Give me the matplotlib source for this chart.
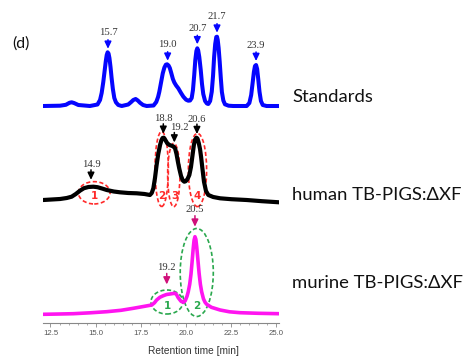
import matplotlib
matplotlib.use("Agg")
import matplotlib.pyplot as plt
import numpy as np
from matplotlib.patches import Ellipse
from matplotlib.ticker import MultipleLocator

# ---------------- data ----------------
# Standards trace: retention time [min] and signal (a.u.)
std_t = [12.10, 13.03, 13.35, 13.55, 13.67, 13.80, 14.04, 14.68,
         15.10, 15.24, 15.33, 15.42, 15.50, 15.56, 15.61, 15.66, 15.71, 15.76, 15.82,
         15.88, 15.95, 16.03, 16.12, 16.25, 16.44,
         16.80, 16.95, 17.08, 17.21, 17.33, 17.45, 17.62, 17.82,
         18.20, 18.35, 18.45, 18.52, 18.62, 18.71, 18.80, 18.88, 18.95, 19.03, 19.10,
         19.18, 19.27, 19.35, 19.45, 19.57, 19.72, 19.85, 20.00, 20.12, 20.22, 20.31,
         20.38, 20.45, 20.51, 20.57, 20.62, 20.67, 20.73, 20.81, 20.88, 20.95, 21.05,
         21.15, 21.23, 21.33, 21.42, 21.49, 21.55, 21.61, 21.67, 21.71, 21.75, 21.80,
         21.86, 21.92, 21.98, 22.06, 22.15, 22.35, 22.61,
         23.35, 23.50, 23.60, 23.68, 23.75, 23.81, 23.87, 23.93, 23.99, 24.06, 24.14,
         24.24, 24.45, 25.15]
std_h = [0, 0.3, 1.2, 3.2, 3.7, 3, 1, 0,
         1.5, 6, 13, 24, 36, 45, 51, 53.7, 52.5, 48, 39,
         28, 17, 8, 3.7, 1, 0,
         1.5, 3.8, 6, 7, 5.5, 3.3, 1, 0,
         0.5, 4, 9, 14.3, 24, 32.7, 38.5, 41.3, 41.7, 40.5, 38,
         33, 27, 23.5, 20.5, 17.7, 13, 9.3, 6.3, 5.3, 5.5, 8,
         16, 31, 46, 55, 57.7, 55.5, 49, 36, 22, 12, 5,
         2.5, 2, 5, 14.3, 30, 49, 62, 69, 69.3, 66, 58,
         44, 28, 14, 5.5, 1.7, 0.3, 0,
         0, 3, 11, 23, 34, 40, 41, 37, 27, 14.3, 5,
         1, 0, 0]

# human TB-PIGS:dXF trace
hum_t = [12.10, 13.03, 13.40, 13.67, 13.90, 14.13, 14.35, 14.60, 14.87, 15.10,
         15.35, 15.61, 16.00, 16.34, 16.80, 17.27, 17.70, 18.00, 18.10, 18.19,
         18.28, 18.37, 18.46, 18.56, 18.63, 18.70, 18.77, 18.85, 18.96, 19.08,
         19.20, 19.30, 19.39, 19.47, 19.55, 19.62, 19.72, 19.82, 19.90, 19.98,
         20.08, 20.18, 20.27, 20.35, 20.43, 20.50, 20.57, 20.63, 20.70, 20.77,
         20.83, 20.90, 20.99, 21.10, 21.23, 21.50, 21.88, 22.50, 23.35, 24.20,
         25.15]
hum_h = [0, 1, 2, 3.3, 6, 9.3, 11.8, 13, 13.3, 12.8,
         11.5, 10, 8.5, 7.7, 7, 6.7, 6, 5, 7, 11.7,
         22, 35, 46, 55, 59.5, 62, 62.3, 60, 56.7, 55,
         54.3, 53.5, 51.7, 46, 38, 31.7, 24, 19.5, 18.3, 18.8,
         21, 25, 33, 44, 55, 60.5, 62.3, 61.5, 57, 51,
         43, 32, 18.3, 9, 5, 3, 1.7, 0.8, 0, -1.2,
         -2.3]

# murine TB-PIGS:dXF trace
mur_t = [12.10, 13.00, 13.76, 14.70, 15.61, 16.40, 17.08, 17.70, 18.10, 18.25,
         18.37, 18.55, 18.74, 18.92, 19.11, 19.28, 19.39, 19.48, 19.55, 19.62,
         19.72, 19.85, 19.95, 20.05, 20.12, 20.20, 20.27, 20.33, 20.39, 20.44,
         20.49, 20.54, 20.59, 20.65, 20.72, 20.79, 20.86, 20.96, 21.05, 21.14,
         21.40, 21.88, 22.40, 22.98, 24.00, 25.15]
mur_h = [0, 0.3, 0.6, 1.5, 2.6, 4, 6, 8, 9.3, 11.5,
         14.3, 17, 18.6, 19.8, 20.3, 20.8, 21, 19.5, 17, 15.3,
         13, 12, 13.5, 18, 22.6, 30, 40, 52, 65, 74,
         77.6, 75, 67, 55, 41, 30, 22.6, 15.5, 12, 10,
         7, 4.3, 2.5, 1.6, 1, 0.6]

# peak labels
std_lab = ["15.7", "19.0", "20.7", "21.7", "23.9"]
std_lab_t = [15.68, 18.98, 20.62, 21.71, 23.87]
hum_lab = ["14.9", "18.8", "19.2", "20.6"]
hum_lab_t = [14.74, 18.74, 19.35, 20.60]
mur_lab = ["19.2", "20.5"]
mur_lab_t = [18.93, 20.49]

# fraction ellipses: centre time, centre signal, width [min], height, label
hum_frac = ["1", "2", "3", "4"]
hum_frac_t = [14.92, 18.65, 19.32, 20.63]
hum_frac_y = [7.2, 31, 25, 30]
hum_frac_w = [1.75, 0.74, 0.68, 1.01]
hum_frac_h = [22.3, 75, 63.3, 73.3]
hum_frac_lab_t = [14.92, 18.68, 19.38, 20.59]

mur_frac = ["1", "2"]
mur_frac_t = [18.94, 20.59]
mur_frac_y = [12.3, 41.8]
mur_frac_w = [1.77, 1.83]
mur_frac_h = [24, 88]
mur_frac_lab_t = [18.97, 20.59]

trace_names = ["Standards", "human TB-PIGS:\u0394XF", "murine TB-PIGS:\u0394XF"]

# ---------------- layout / style ----------------
W, H = 467, 357
fig = plt.figure(figsize=(W / 100, H / 100), dpi=100)
ax_left, ax_right, ax_bot = 42.9, 279.2, 323
ax = fig.add_axes([ax_left / W, (H - ax_bot) / H, (ax_right - ax_left) / W, ax_bot / H])
ax.set_xlim(12.08, 25.15)
ax.set_ylim(0, ax_bot)
ax.patch.set_alpha(0)

off_std, off_hum, off_mur = 217, 123, 8.7
c_std, c_hum, c_mur = "#0505ff", "#000000", "#ff14f0"
c_mur_arrow = "#d0107a"
c_red, c_green = "#ff2a2a", "#2aa84e"

kw = dict(solid_capstyle="round", solid_joinstyle="round")
ax.plot(std_t, np.array(std_h) + off_std, color=c_std, lw=2.9, **kw)
ax.plot(hum_t, np.array(hum_h) + off_hum, color=c_hum, lw=3.0, **kw)
ax.plot(mur_t, np.array(mur_h) + off_mur, color=c_mur, lw=2.6, **kw)

serif = ["Liberation Serif", "DejaVu Serif"]


def peak_labels(labels, ts, tr_t, tr_h, off, gap, alen, color, tcolor, dx=None, dy=7):
    for i, (lab, t) in enumerate(zip(labels, ts)):
        g = gap[i] if isinstance(gap, (list, tuple)) else gap
        tip = np.interp(t, tr_t, tr_h) + off + g
        tail = tip + alen
        ax.annotate("", xy=(t, tip), xytext=(t, tail),
                    arrowprops=dict(arrowstyle="-|>,head_length=0.42,head_width=0.2",
                                    lw=1.1, color=color, shrinkA=0, shrinkB=0),
                    annotation_clip=False)
        tx = t + (dx[i] if dx else 0)
        ax.text(tx, tail + dy, lab, ha="center", va="center", fontsize=7.7,
                family=serif, color=tcolor, clip_on=False)


peak_labels(std_lab, std_lab_t, std_t, std_h, off_std, 4, 9, c_std, "#333333")
peak_labels(hum_lab, hum_lab_t, hum_t, hum_h, off_hum, [7, 4, 5, 4], 10, c_hum, "#333333",
            dx=[0, 0, 0.3, 0], dy=5)
peak_labels(mur_lab, mur_lab_t, mur_t, mur_h, off_mur, [10, 10], 11, c_mur_arrow, "#333333",
            dy=6)


def fractions(labs, ts, ys, ws, hs, lts, off, color, lab_y):
    for lab, t, y, w, h, lt in zip(labs, ts, ys, ws, hs, lts):
        e = Ellipse((t, y + off), w, h, fill=False, ec=color, lw=1.2,
                    ls=(0, (2.5, 1.5)), clip_on=False)
        ax.add_patch(e)
        ax.text(lt, lab_y + off, lab, ha="center", va="center", fontsize=7.5,
                fontweight="bold", family=["DejaVu Sans"], color=color)


fractions(hum_frac, hum_frac_t, hum_frac_y, hum_frac_w, hum_frac_h, hum_frac_lab_t,
          off_hum, c_red, 4)
fractions(mur_frac, mur_frac_t, mur_frac_y, mur_frac_w, mur_frac_h, mur_frac_lab_t,
          off_mur, c_green, 8.6)

# axis styling
for s in ["left", "right", "top"]:
    ax.spines[s].set_visible(False)
ax.spines["bottom"].set_color("#888888")
ax.spines["bottom"].set_linewidth(0.8)
ax.set_yticks([])
ax.xaxis.set_major_locator(MultipleLocator(2.5))
ax.xaxis.set_minor_locator(MultipleLocator(0.5))
ax.tick_params(axis="x", which="major", length=3, width=0.6, color="#888888",
               labelsize=5.6, labelcolor="#555555", pad=2)
ax.tick_params(axis="x", which="minor", length=1.6, width=0.5, color="#888888")
for lab in ax.get_xticklabels():
    lab.set_family(["Liberation Sans", "DejaVu Sans"])

fig.text(193.7 / W, 1 - 351 / H, "Retention time [min]", ha="center", va="center",
         fontsize=7.3, color="#333333", family=["Liberation Sans", "DejaVu Sans"])

sans = ["Lato", "DejaVu Sans"]
fig.text(12 / W, 1 - 44 / H, "(d)", ha="left", va="center", fontsize=11.5,
         family=sans, color="#111111")
for name, yb in zip(trace_names, [101.7, 200, 288]):
    fig.text(292 / W, 1 - yb / H, name, ha="left", va="baseline", fontsize=13.3,
             family=sans, color="#111111")

fig.savefig("out.png", dpi=100)
